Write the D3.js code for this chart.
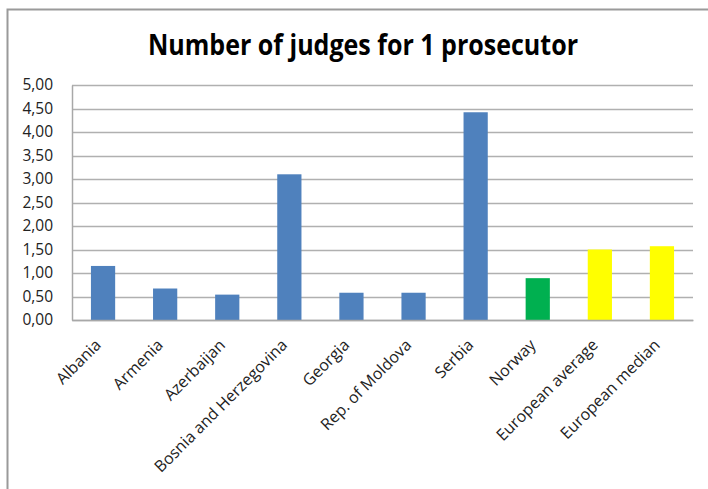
<!DOCTYPE html>
<html>
<head>
<meta charset="utf-8">
<script src="https://cdn.jsdelivr.net/npm/d3@7/dist/d3.min.js"></script>
<style>
  html, body { margin: 0; padding: 0; background: #fff; }
  svg { display: block; }
</style>
</head>
<body>
<script>
// Judges per prosecutor, by country plus European reference values
const categories = ["Albania", "Armenia", "Azerbaijan", "Bosnia and Herzegovina", "Georgia",
  "Rep. of Moldova", "Serbia", "Norway", "European average", "European median"];
const values = [1.15, 0.67, 0.54, 3.10, 0.58, 0.58, 4.42, 0.89, 1.50, 1.57];
const groups = ["country", "country", "country", "country", "country",
  "country", "country", "reference", "benchmark", "benchmark"];
const yTicks = [0, 0.5, 1, 1.5, 2, 2.5, 3, 3.5, 4, 4.5, 5];
const title = "Number of judges for 1 prosecutor";

const W = 708, H = 489;
const margin = { left: 72, right: 15, top: 85, bottom: 169 };
const font = "'Open Sans', sans-serif";

const colour = d3.scaleOrdinal()
  .domain(["country", "reference", "benchmark"])
  .range(["#4F81BD", "#00B050", "#FFFF00"]);

const svg = d3.select("body").append("svg").attr("width", W).attr("height", H);

// Outer frame (open on the right and bottom, as clipped)
svg.append("path")
  .attr("d", `M7.5,${H} V9.5 H${W}`)
  .attr("fill", "none").attr("stroke", "#9a9a9a").attr("stroke-width", 2);

const x = d3.scaleBand().domain(categories)
  .range([margin.left, W - margin.right]).paddingInner(0.61).paddingOuter(0.305);
const y = d3.scaleLinear().domain([0, 5]).range([H - margin.bottom, margin.top]);

// Title
svg.append("text")
  .attr("x", 363).attr("y", 55)
  .attr("text-anchor", "middle")
  .attr("font-family", font)
  .attr("font-weight", "bold").attr("font-size", 28)
  .attr("textLength", 430).attr("lengthAdjust", "spacingAndGlyphs")
  .attr("fill", "#000")
  .text(title);

// Horizontal gridlines
svg.append("g").selectAll("line").data(yTicks).join("line")
  .attr("x1", margin.left).attr("x2", W - margin.right)
  .attr("y1", d => Math.round(y(d)) + 0.5).attr("y2", d => Math.round(y(d)) + 0.5)
  .attr("stroke", "#b0b0b0").attr("stroke-width", 1.5);

// Y axis
const yAxis = d3.axisLeft(y).tickValues(yTicks)
  .tickFormat(d => d3.format(".2f")(d).replace(".", ","))
  .tickSize(0).tickPadding(19);
const gy = svg.append("g").attr("transform", `translate(${margin.left},0)`).call(yAxis);
gy.select(".domain").attr("stroke", "#a8a8a8").attr("stroke-width", 1.5);
gy.selectAll("text")
  .attr("font-family", font).attr("font-size", 15.5).attr("fill", "#222");

// Bars
svg.append("g").selectAll("rect").data(categories).join("rect")
  .attr("x", d => x(d))
  .attr("width", x.bandwidth())
  .attr("y", (d, i) => y(values[i]))
  .attr("height", (d, i) => y(0) - y(values[i]))
  .attr("fill", (d, i) => colour(groups[i]));

// X axis
const xAxis = d3.axisBottom(x).tickSize(0).tickPadding(0);
const gx = svg.append("g").attr("transform", `translate(0,${y(0)})`).call(xAxis);
gx.select(".domain").attr("stroke", "#a8a8a8").attr("stroke-width", 1.5);
gx.selectAll("text")
  .attr("font-family", font).attr("font-size", 16).attr("fill", "#222")
  .attr("text-anchor", "end")
  .attr("dy", null)
  .attr("transform", "translate(-1,26) rotate(-45)");
</script>
</body>
</html>
